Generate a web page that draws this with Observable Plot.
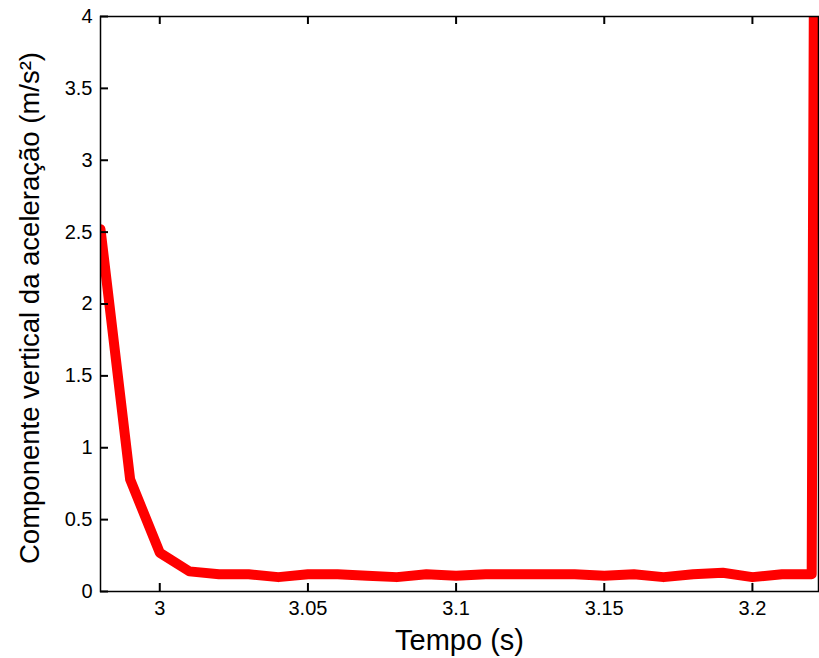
<!DOCTYPE html>
<html>
<head>
<meta charset="utf-8">
<script src="https://cdn.jsdelivr.net/npm/d3@7"></script>
<script src="https://cdn.jsdelivr.net/npm/@observablehq/plot@0.6"></script>
<style>
  html, body { margin: 0; padding: 0; background: #fff; }
  #chart svg { display: block; }
</style>
</head>
<body>
<div id="chart"></div>
<script>
const tempo = [2.98, 2.99, 3.00, 3.01, 3.02, 3.03, 3.04, 3.05, 3.06, 3.07, 3.08, 3.09, 3.10,
               3.11, 3.12, 3.13, 3.14, 3.15, 3.16, 3.17, 3.18, 3.19, 3.20, 3.21, 3.22, 3.23];
const aceleracao = [2.52, 0.78, 0.27, 0.14, 0.12, 0.12, 0.10, 0.12, 0.12, 0.11, 0.10, 0.12, 0.11,
                    0.12, 0.12, 0.12, 0.12, 0.11, 0.12, 0.10, 0.12, 0.13, 0.10, 0.12, 0.12, 55];
const xTicks = [3, 3.05, 3.1, 3.15, 3.2];
const yTicks = [0, 0.5, 1, 1.5, 2, 2.5, 3, 3.5, 4];
const xLabel = "Tempo (s)";
const yLabel = "Componente vertical da aceleração (m/s²)";

const data = tempo.map((t, i) => ({t, a: aceleracao[i]}));

const W = 819, H = 658, mL = 100, mR = 1, mT = 16, mB = 67;
const frameW = W - mL - mR, frameH = H - mT - mB, tick = 8;

const chart = Plot.plot({
  width: W,
  height: H,
  marginLeft: mL,
  marginRight: mR,
  marginTop: mT,
  marginBottom: mB,
  style: {fontFamily: "Liberation Sans, Arial, sans-serif", fontSize: "20px", color: "#000", background: "#fff"},
  x: {domain: [2.98, 3.2223], label: null},
  y: {domain: [0, 4], label: null},
  marks: [
    Plot.line(data, {x: "t", y: "a", stroke: "#ff0000", strokeWidth: 10, clip: true, strokeLinejoin: "round"}),
    Plot.frame({stroke: "#000", strokeWidth: 1.5}),
    // inward tick marks (bottom, top, left)
    Plot.tickX(xTicks, {x: d => d, insetTop: frameH - tick, stroke: "#000", strokeWidth: 2}),
    Plot.tickX(xTicks, {x: d => d, insetBottom: frameH - tick, stroke: "#000", strokeWidth: 2}),
    Plot.tickY(yTicks, {y: d => d, insetRight: frameW - tick, stroke: "#000", strokeWidth: 2}),
    // tick labels
    Plot.axisX(xTicks, {anchor: "bottom", tickSize: 0, tickPadding: 9, tickFormat: d => String(d), fontSize: 20, label: null}),
    Plot.axisY(yTicks, {anchor: "left", tickSize: 0, tickPadding: 8, tickFormat: d => String(d), fontSize: 20, label: null}),
    Plot.text([xLabel], {frameAnchor: "bottom", dy: 49, fontSize: 29, fill: "#000", textAnchor: "middle", lineAnchor: "middle"}),
    Plot.text([yLabel], {frameAnchor: "left", dx: -70, dy: 4, rotate: -90, fontSize: 27.5, fill: "#000", textAnchor: "middle", lineAnchor: "middle"})
  ]
});
document.getElementById("chart").appendChild(chart);
</script>
</body>
</html>
